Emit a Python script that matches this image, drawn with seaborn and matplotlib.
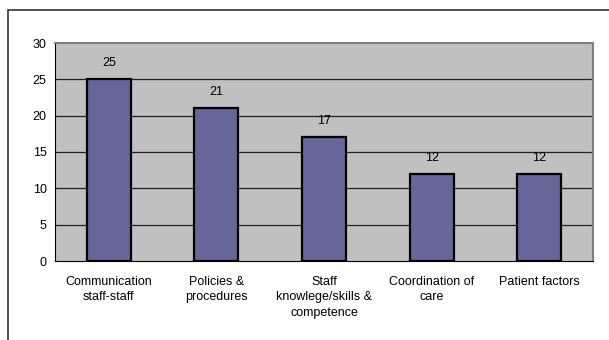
import matplotlib
matplotlib.use('Agg')
import matplotlib.pyplot as plt
import pandas as pd
import seaborn as sns
from matplotlib.patches import Rectangle

categories = ['Communication\nstaff-staff', 'Policies &\nprocedures',
              'Staff\nknowlege/skills &\ncompetence', 'Coordination of\ncare',
              'Patient factors']
counts = [25, 21, 17, 12, 12]

df = pd.DataFrame({'category': categories, 'count': counts})

sns.set_style('white')
plt.rcParams['font.family'] = ['Liberation Sans', 'DejaVu Sans']
plt.rcParams['text.color'] = 'black'
plt.rcParams['xtick.color'] = 'black'
plt.rcParams['ytick.color'] = 'black'

fig = plt.figure(figsize=(6.09, 3.40), dpi=100)
ax = fig.add_axes([55 / 609, 1 - 261 / 340, 538 / 609, 218 / 340])

# Outer chart frame
fig.patches.append(Rectangle((8 / 609, -0.05), 1.2, 1 - 10 / 340 + 0.05,
                             transform=fig.transFigure, fill=False,
                             edgecolor='#333333', linewidth=1.2))

ax.set_facecolor('#C0C0C0')
sns.barplot(data=df, x='category', y='count', color='#666699', saturation=1,
            width=0.41, edgecolor='black', linewidth=1.6, ax=ax, zorder=3)

ax.set_ylim(0, 30)
ax.set_xlim(-0.5, 4.5)
ax.set_yticks([0, 5, 10, 15, 20, 25, 30])
for y in [5, 10, 15, 20, 25]:
    ax.axhline(y, color='#222222', linewidth=0.9, zorder=1)

# Value labels
for i, v in enumerate(counts):
    ax.text(i, v + 2.2, str(v), ha='center', va='center', fontsize=9, color='black')

# Ticks at category boundaries
ax.set_xticks([-0.5, 0.5, 1.5, 2.5, 3.5, 4.5], minor=False)
ax.set_xticklabels([])
ax.set_xticks(range(len(categories)), minor=True)
ax.set_xticklabels(categories, minor=True, fontsize=9, va='top', linespacing=1.35)
ax.tick_params(axis='x', which='major', direction='out', length=4, width=0.8,
               colors='black')
ax.tick_params(axis='x', which='minor', length=0, pad=11, labelcolor='black')
ax.tick_params(axis='y', direction='out', length=4, width=0.8, labelsize=9, pad=2,
               colors='black')
ax.set_xlabel('')
ax.set_ylabel('')

for side in ['top', 'right']:
    ax.spines[side].set_color('#808080')
    ax.spines[side].set_linewidth(1.5)
for side in ['left', 'bottom']:
    ax.spines[side].set_color('black')
    ax.spines[side].set_linewidth(0.8)

fig.savefig('out.png', dpi=100)
